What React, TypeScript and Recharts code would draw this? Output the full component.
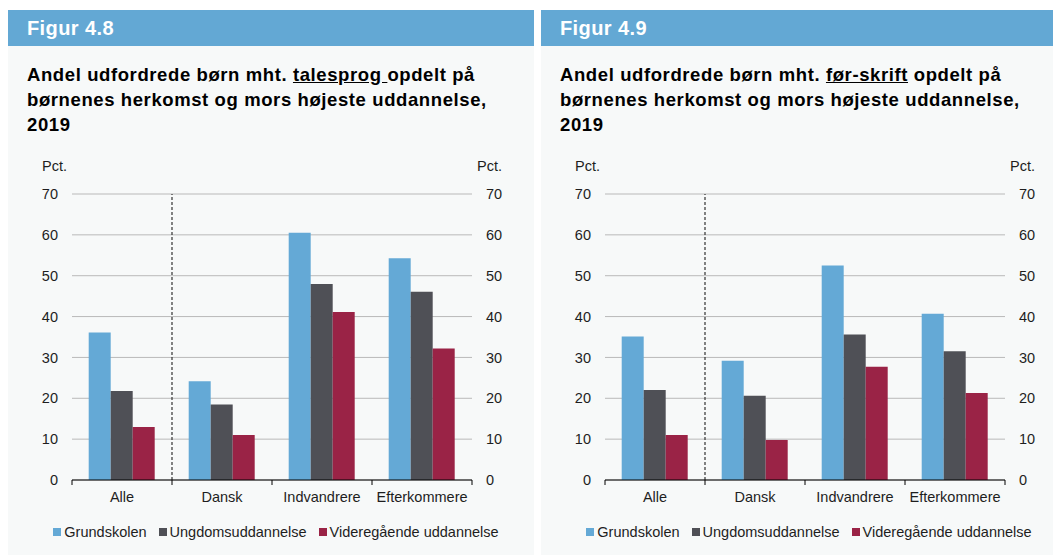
import React from 'react';
import { BarChart, Bar, XAxis, YAxis, CartesianGrid, Legend, ReferenceLine } from 'recharts';

const categories = ['Alle', 'Dansk', 'Indvandrere', 'Efterkommere'];
const seriesNames = ['Grundskolen', 'Ungdomsuddannelse', 'Videregående uddannelse'];
const seriesColors = ['#64a9d6', '#4f5056', '#9a2346'];

// Figur 4.8 - talesprog
const talesprogGrundskolen = [36.1, 24.2, 60.5, 54.3];
const talesprogUngdom = [21.8, 18.5, 48.0, 46.1];
const talesprogVideregaaende = [13.0, 11.0, 41.1, 32.2];

// Figur 4.9 - før-skrift
const skriftGrundskolen = [35.1, 29.2, 52.5, 40.7];
const skriftUngdom = [22.0, 20.6, 35.6, 31.5];
const skriftVideregaaende = [11.0, 9.8, 27.7, 21.3];

const yTicks = [0, 10, 20, 30, 40, 50, 60, 70];

const FONT = '"Liberation Sans", Arial, Helvetica, sans-serif';
const TEXT = '#1e1e1e';

function buildRows(a: number[], b: number[], c: number[]) {
  return categories.map((name, i) => ({ name, s0: a[i], s1: b[i], s2: c[i] }));
}

function CategoryTick(props: any) {
  const { x, y, payload } = props;
  const half = payload && payload.offset != null ? payload.offset : 50;
  const isLast = payload.value === categories[categories.length - 1];
  return (
    <g>
      <line x1={x - half} x2={x - half} y1={y} y2={y + 5} stroke="#000" />
      {isLast && <line x1={x + half} x2={x + half} y1={y} y2={y + 5} stroke="#000" />}
      <text x={x} y={y + 22} textAnchor="middle" fill={TEXT} fontSize={14.5} fontFamily={FONT}>
        {payload.value}
      </text>
    </g>
  );
}

function LegendContent(props: any) {
  const items = props.payload || [];
  return (
    <div
      style={{
        display: 'flex',
        justifyContent: 'center',
        alignItems: 'center',
        height: 36,
        fontSize: 14.5,
        color: TEXT,
        fontFamily: FONT,
      }}
    >
      {items.map((it: any, i: number) => (
        <div key={i} style={{ display: 'flex', alignItems: 'center', marginRight: i < items.length - 1 ? 12 : 0 }}>
          <span style={{ width: 8, height: 8, background: it.color, marginRight: 3, display: 'inline-block' }} />
          <span>{it.value}</span>
        </div>
      ))}
    </div>
  );
}

function Panel(props: {
  left: number;
  width: number;
  figure: string;
  topic: string;
  after: string;
  rows: any[];
}) {
  const { left, width, figure, topic, after, rows } = props;
  return (
    <div style={{ position: 'absolute', left, top: 10, width, height: 545, background: '#f7f9f9', overflow: 'visible' }}>
      <div
        style={{
          height: 36,
          background: '#63a8d4',
          color: '#fff',
          fontFamily: FONT,
          fontWeight: 'bold',
          fontSize: 20,
          letterSpacing: 0.4,
          lineHeight: '36px',
          paddingLeft: 19,
        }}
      >
        {figure}
      </div>
      <div
        style={{
          position: 'absolute',
          left: 19,
          top: 52,
          fontFamily: FONT,
          fontWeight: 'bold',
          fontSize: 18.5,
          letterSpacing: 0.6,
          lineHeight: '25px',
          color: '#000',
          whiteSpace: 'pre',
        }}
      >
        {'Andel udfordrede børn mht. '}
        <u>{topic}</u>
        {after + 'opdelt på'}
        <br />
        børnenes herkomst og mors højeste uddannelse,
        <br />
        2019
      </div>
      <div style={{ position: 'absolute', left: 34, top: 148, fontFamily: FONT, fontSize: 14.5, color: TEXT, lineHeight: '17px' }}>
        Pct.
      </div>
      <div
        style={{
          position: 'absolute',
          left: 444,
          width: 50,
          textAlign: 'right',
          top: 148,
          fontFamily: FONT,
          fontSize: 14.5,
          color: TEXT,
          lineHeight: '17px',
        }}
      >
        Pct.
      </div>
      <div style={{ position: 'absolute', left: 0, top: 170 }}>
        <BarChart
          width={526}
          height={370}
          data={rows}
          margin={{ top: 14, right: 12, left: 4, bottom: 0 }}
          barCategoryGap="16.7%"
          barGap={0}
        >
          <CartesianGrid yAxisId="left" vertical={false} stroke="#b9b9b9" />
          <XAxis
            dataKey="name"
            height={34}
            axisLine={{ stroke: '#000' }}
            tickLine={false}
            tickSize={0}
            tickMargin={0}
            interval={0}
            tick={<CategoryTick />}
          />
          <YAxis
            yAxisId="left"
            type="number"
            domain={[0, 70]}
            ticks={yTicks}
            width={60}
            axisLine={false}
            tickLine={false}
            tickMargin={8}
            tick={{ fill: TEXT, fontSize: 14.5, fontFamily: FONT }}
          />
          <YAxis
            yAxisId="right"
            orientation="right"
            type="number"
            domain={[0, 70]}
            allowDataOverflow
            ticks={yTicks}
            width={50}
            axisLine={false}
            tickLine={false}
            tickMargin={8}
            tick={{ fill: TEXT, fontSize: 14.5, fontFamily: FONT, textAnchor: 'start' }}
          />
          <ReferenceLine
            yAxisId="left"
            x={categories[0]}
            position="end"
            stroke="#333"
            strokeWidth={1.2}
            strokeDasharray="3 2"
          />
          {seriesNames.map((n, i) => (
            <Bar
              key={n}
              yAxisId="left"
              dataKey={'s' + i}
              name={n}
              fill={seriesColors[i]}
              isAnimationActive={false}
            />
          ))}
          <Legend
            verticalAlign="bottom"
            height={36}
            content={<LegendContent />}
            wrapperStyle={{ left: 0, width: 536 }}
          />
        </BarChart>
      </div>
    </div>
  );
}

export default function App() {
  return (
    <div style={{ position: 'fixed', left: 0, top: 0, width: 1053, height: 555, background: '#fff', overflow: 'hidden' }}>
      <Panel
        left={8}
        width={526}
        figure="Figur 4.8"
        topic="talesprog "
        after=""
        rows={buildRows(talesprogGrundskolen, talesprogUngdom, talesprogVideregaaende)}
      />
      <Panel
        left={541}
        width={512}
        figure="Figur 4.9"
        topic="før-skrift"
        after=" "
        rows={buildRows(skriftGrundskolen, skriftUngdom, skriftVideregaaende)}
      />
    </div>
  );
}
